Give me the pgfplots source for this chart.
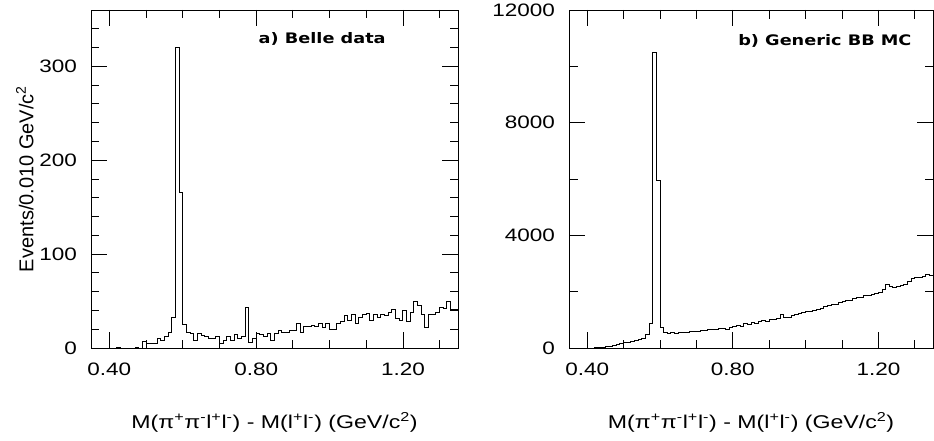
\documentclass[border=0pt]{standalone}
\usepackage{fontspec}
\setmainfont{Liberation Sans}
\newfontfamily\titlefont{DejaVu Sans}
\usepackage{pgfplots}
\pgfplotsset{compat=1.18}

\pgfplotsset{
  pawstyle/.style={
    scale only axis,
    height=338pt,
    xmin=0.35, xmax=1.35,
    xtick={0.4,0.8,1.2},
    xticklabels={\textnormal{0.40},\textnormal{0.80},\textnormal{1.20}},
    minor xtick={0.5,0.6,0.7,0.9,1.0,1.1,1.3},
    major tick length=16pt,
    minor tick length=8.5pt,
    tick style={black, line width=0.8pt},
    axis line style={line width=0.9pt},
    ticklabel style={font=\fontsize{18}{18}\selectfont},
    xticklabel style={xscale=1.25, yshift=-11pt},
    yticklabel style={xscale=1.25, inner sep=1pt, xshift=-10pt},
    xlabel style={at={(axis description cs:0.5,-0.22)}, anchor=center,
                  font=\fontsize{18.5}{18.5}\selectfont, xscale=1.25},
    xlabel={M(π\textsuperscript{+}π\textsuperscript{-}l\textsuperscript{+}l\textsuperscript{-}) - M(l\textsuperscript{+}l\textsuperscript{-}) (GeV/c\textsuperscript{2})},
  }
}

\begin{document}
\begin{tikzpicture}
\path[use as bounding box] (0,0) rectangle (934pt,440pt);

% a) Belle data
\begin{axis}[pawstyle,
    at={(91pt,92pt)}, anchor=south west, width=367pt,
    ymin=0, ymax=360,
    ytick={0,100,200,300},
    yticklabels={\textnormal{0},\textnormal{100},\textnormal{200},\textnormal{300}},
    minor ytick={20,40,60,80,120,140,160,180,220,240,260,280,320,340},
    ylabel={Events/0.010 GeV/c\textsuperscript{2}},
    ylabel style={at={(axis description cs:-0.18,0.5)}, anchor=center,
                  font=\fontsize{20}{20}\selectfont},
  ]
  \addplot[const plot, line width=1pt] coordinates {
    (0.35,0)(0.36,0)(0.37,0)(0.38,0)(0.39,0)(0.40,0)(0.41,0)(0.42,1)(0.43,0)(0.44,0)
    (0.45,0)(0.46,0)(0.47,1)(0.48,0)(0.49,7)(0.50,5)(0.51,5)(0.52,5)(0.53,10)(0.54,8)
    (0.55,12)(0.56,17)(0.57,32)(0.58,320)(0.59,166)(0.60,25)(0.61,16)(0.62,15)(0.63,8)(0.64,15)
    (0.65,13)(0.66,12)(0.67,10)(0.68,10)(0.69,12)(0.70,5)(0.71,8)(0.72,12)(0.73,8)(0.74,14)
    (0.75,10)(0.76,12)(0.77,43)(0.78,6)(0.79,10)(0.80,15)(0.81,14)(0.82,12)(0.83,15)(0.84,8)
    (0.85,15)(0.86,19)(0.87,17)(0.88,17)(0.89,19)(0.90,19)(0.91,26)(0.92,16)(0.93,23)(0.94,23)
    (0.95,24)(0.96,23)(0.97,26)(0.98,22)(0.99,26)(1.00,20)(1.01,20)(1.02,26)(1.03,28)(1.04,35)
    (1.05,29)(1.06,36)(1.07,26)(1.08,33)(1.09,36)(1.10,37)(1.11,29)(1.12,36)(1.13,33)(1.14,36)
    (1.15,35)(1.16,38)(1.17,41)(1.18,31)(1.19,29)(1.20,40)(1.21,28)(1.22,38)(1.23,50)(1.24,45)
    (1.25,36)(1.26,22)(1.27,36)(1.28,36)(1.29,38)(1.30,43)(1.31,42)(1.32,50)(1.33,41)(1.34,41)
    (1.35,41)
  };
  \node[font=\titlefont\bfseries\fontsize{14.5}{14.5}\selectfont, xscale=1.22]
    at (axis description cs:0.63,0.915) {a) Belle data};
\end{axis}

% b) Generic BB MC
\begin{axis}[pawstyle,
    at={(569pt,92pt)}, anchor=south west, width=364pt,
    ymin=0, ymax=12000,
    ytick={0,4000,8000,12000},
    yticklabels={\textnormal{0},\textnormal{4000},\textnormal{8000},\textnormal{12000}},
    minor ytick={2000,6000,10000},
  ]
  \addplot[const plot, line width=1pt] coordinates {
    (0.35,0)(0.36,0)(0.37,0)(0.38,0)(0.39,0)(0.40,0)(0.41,0)(0.42,5)(0.43,15)(0.44,30)
    (0.45,50)(0.46,70)(0.47,95)(0.48,120)(0.49,150)(0.50,180)(0.51,210)(0.52,245)(0.53,270)(0.54,310)
    (0.55,350)(0.56,480)(0.57,880)(0.58,10480)(0.59,5950)(0.60,720)(0.61,560)(0.62,520)(0.63,560)(0.64,530)
    (0.65,550)(0.66,560)(0.67,540)(0.68,580)(0.69,590)(0.70,580)(0.71,620)(0.72,610)(0.73,650)(0.74,660)
    (0.75,640)(0.76,680)(0.77,690)(0.78,670)(0.79,720)(0.80,760)(0.81,800)(0.82,780)(0.83,860)(0.84,830)
    (0.85,900)(0.86,880)(0.87,940)(0.88,960)(0.89,940)(0.90,1000)(0.91,1020)(0.92,1050)(0.93,1180)(0.94,1080)
    (0.95,1100)(0.96,1160)(0.97,1190)(0.98,1230)(0.99,1260)(1.00,1280)(1.01,1300)(1.02,1320)(1.03,1380)(1.04,1420)
    (1.05,1470)(1.06,1520)(1.07,1530)(1.08,1560)(1.09,1620)(1.10,1650)(1.11,1700)(1.12,1680)(1.13,1740)(1.14,1780)
    (1.15,1800)(1.16,1850)(1.17,1880)(1.18,1900)(1.19,1940)(1.20,1980)(1.21,2060)(1.22,2250)(1.23,2180)(1.24,2160)
    (1.25,2200)(1.26,2210)(1.27,2260)(1.28,2350)(1.29,2450)(1.30,2500)(1.31,2520)(1.32,2540)(1.33,2620)(1.34,2580)
    (1.35,2580)
  };
  \node[font=\titlefont\bfseries\fontsize{14.5}{14.5}\selectfont, xscale=1.22]
    at (axis description cs:0.703,0.909) {b) Generic BB MC};
\end{axis}
\end{tikzpicture}
\end{document}
